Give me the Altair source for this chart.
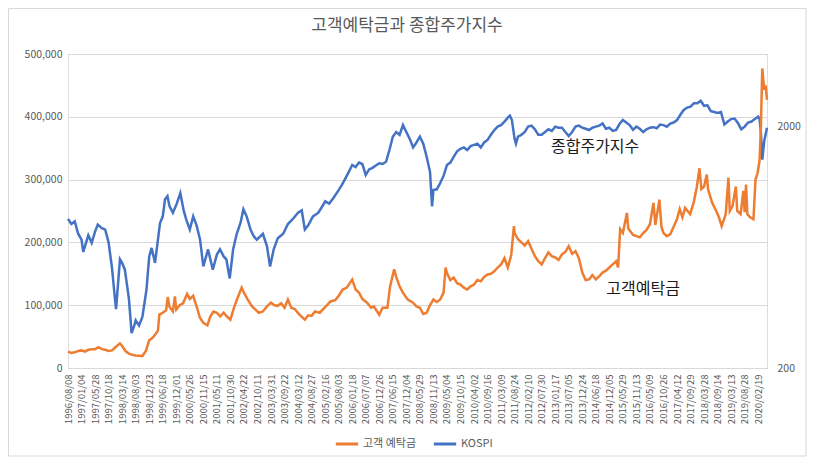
import altair as alt
import pandas as pd

# x-axis category labels (every label interval = 1 unit of t)
date_labels = [
    "1996/08/08", "1997/01/04", "1997/05/28", "1997/10/18", "1998/03/14", "1998/08/03",
    "1998/12/23", "1999/06/18", "1999/12/01", "2000/05/26", "2000/11/15", "2001/05/11",
    "2001/10/30", "2002/04/22", "2002/10/11", "2003/03/31", "2003/09/22", "2004/03/12",
    "2004/08/27", "2005/02/16", "2005/08/03", "2006/01/18", "2006/07/07", "2006/12/26",
    "2007/06/15", "2007/12/04", "2008/05/29", "2008/11/13", "2009/05/04", "2009/10/15",
    "2010/04/02", "2010/09/16", "2011/03/09", "2011/08/24", "2012/02/10", "2012/07/30",
    "2013/01/17", "2013/07/05", "2013/12/24", "2014/06/18", "2014/12/05", "2015/05/29",
    "2015/11/13", "2016/05/09", "2016/10/26", "2017/04/12", "2017/09/29", "2018/03/28",
    "2018/09/14", "2019/03/13", "2019/08/28", "2020/02/19",
]

# KOSPI (right axis, log scale)
kospi_t = [
    0, 0.25, 0.5, 0.75, 1.0, 1.13, 1.5, 1.75, 2.0, 2.2, 2.5, 2.75, 3.0, 3.25, 3.47, 3.55,
    3.84, 4.0, 4.2, 4.5, 4.7, 4.9, 5.0, 5.25, 5.5, 5.8, 6.0, 6.18, 6.43, 6.8, 7.0, 7.17,
    7.35, 7.5, 7.75, 8.03, 8.3, 8.55, 8.75, 9.0, 9.25, 9.5, 9.76, 10.0, 10.35, 10.7, 11.0,
    11.23, 11.5, 11.7, 11.95, 12.2, 12.47, 12.75, 12.96, 13.2, 13.5, 13.75, 13.95, 14.4,
    14.7, 14.93, 15.2, 15.5, 15.9, 16.25, 16.6, 17.0, 17.27, 17.5, 17.75, 18.1, 18.5, 18.85,
    19.0, 19.3, 19.6, 20.0, 20.25, 20.5, 20.75, 21.0, 21.25, 21.5, 21.75, 22.0, 22.25, 22.5,
    22.75, 23.0, 23.25, 23.5, 23.75, 24.0, 24.25, 24.5, 24.75, 25.0, 25.25, 25.5, 25.75,
    26.0, 26.25, 26.5, 26.75, 26.9, 27.0, 27.25, 27.5, 27.75, 28.0, 28.25, 28.5, 28.75,
    29.0, 29.25, 29.5, 29.75, 30.0, 30.25, 30.5, 30.75, 31.0, 31.25, 31.5, 31.75, 32.0,
    32.25, 32.5, 32.65, 32.8, 33.0, 33.1, 33.25, 33.5, 33.75, 34.0, 34.25, 34.5, 34.75,
    35.0, 35.25, 35.5, 35.75, 36.0, 36.25, 36.5, 36.75, 37.0, 37.25, 37.5, 37.75, 38.0,
    38.25, 38.5, 38.75, 39.0, 39.25, 39.5, 39.75, 40.0, 40.25, 40.5, 40.75, 41.0, 41.25,
    41.5, 41.75, 42.0, 42.25, 42.5, 42.75, 43.0, 43.25, 43.5, 43.75, 44.0, 44.25, 44.5,
    44.75, 45.0, 45.25, 45.5, 45.75, 46.0, 46.25, 46.5, 46.75, 47.0, 47.25, 47.5, 47.75,
    48.0, 48.25, 48.5, 48.75, 49.0, 49.25, 49.5, 49.75, 50.0, 50.25, 50.5, 50.75, 51.0,
    51.1, 51.2, 51.3, 51.45, 51.65,
]
kospi_v = [
    830, 790, 810, 720, 680, 605, 709, 660, 735, 786, 760, 749, 662, 520, 387, 351,
    564, 545, 511, 388, 279, 300, 315, 300, 326, 423, 578, 629, 545, 797, 848, 1000,
    1030, 937, 880, 957, 1060, 897, 820, 750, 850, 780, 680, 527, 620, 511, 590,
    620, 580, 564, 470, 620, 720, 800, 910, 850, 746, 700, 680, 720,
    640, 527, 620, 690, 720, 790, 827, 880, 900, 750, 780, 850, 880, 947,
    981, 960, 1010, 1092, 1150, 1222, 1300, 1387, 1360, 1420, 1400, 1262, 1330, 1350,
    1380, 1410, 1400, 1430, 1600, 1817, 1900, 1850, 2030, 1900, 1780, 1640, 1720,
    1817, 1700, 1500, 1300, 935, 1092, 1100, 1167, 1250, 1387, 1420, 1500, 1580,
    1620, 1640, 1600, 1660, 1680, 1700, 1640, 1720, 1762, 1850, 1937, 2000, 2030,
    2100, 2180, 2220, 2130, 1780, 1700, 1820, 1850, 1900, 2000, 2020, 1950, 1850,
    1850, 1900, 1950, 1920, 2000, 1980, 1980, 1900, 1830, 1900, 2000, 2020, 1980,
    1960, 1937, 1980, 2000, 2020, 2060, 1960, 1980, 1920, 1940, 2050, 2130, 2080,
    2030, 1940, 2000, 1960, 1900, 1950, 1980, 1990, 1970, 2040, 2030, 2000, 2060,
    2080, 2130, 2240, 2346, 2400, 2420, 2500, 2500, 2560, 2440, 2450, 2320, 2300,
    2280, 2300, 2040, 2100, 2150, 2160, 2070, 1950, 2000, 2080, 2100, 2150, 2200,
    2150, 1900, 1460, 1750, 1980,
]

# Customer deposits (left axis)
dep_t = [
    0, 0.25, 0.5, 0.75, 1.0, 1.25, 1.5, 1.75, 2.0, 2.25, 2.5, 2.75, 3.0, 3.25, 3.5, 3.84,
    4.0, 4.25, 4.5, 4.75, 5.0, 5.25, 5.5, 5.75, 6.0, 6.25, 6.5, 6.65, 6.75, 7.0, 7.25,
    7.37, 7.5, 7.75, 7.9, 8.0, 8.25, 8.5, 8.8, 9.0, 9.25, 9.5, 9.75, 10.0, 10.3, 10.5,
    10.75, 11.0, 11.25, 11.5, 11.75, 12.0, 12.25, 12.5, 12.83, 13.0, 13.25, 13.6, 13.75,
    14.1, 14.4, 14.7, 15.0, 15.25, 15.5, 15.75, 16.0, 16.25, 16.5, 16.75, 17.1, 17.5,
    17.75, 18.0, 18.25, 18.6, 19.0, 19.4, 19.75, 20.0, 20.3, 20.6, 21.0, 21.25, 21.5,
    21.75, 22.1, 22.4, 22.6, 23.0, 23.25, 23.6, 23.8, 24.1, 24.25, 24.5, 24.75, 25.1,
    25.5, 25.75, 26.0, 26.25, 26.5, 26.75, 27.0, 27.25, 27.5, 27.75, 27.9, 28.0, 28.25,
    28.5, 28.75, 29.0, 29.25, 29.5, 29.75, 30.0, 30.25, 30.5, 30.75, 31.0, 31.25, 31.5,
    31.75, 32.0, 32.25, 32.5, 32.75, 32.95, 33.0, 33.25, 33.5, 33.75, 34.0, 34.25, 34.5,
    34.75, 35.0, 35.25, 35.5, 35.75, 36.0, 36.25, 36.5, 36.75, 37.0, 37.25, 37.5, 37.75,
    38.0, 38.25, 38.5, 38.75, 39.0, 39.25, 39.5, 39.75, 40.0, 40.25, 40.5, 40.65, 40.8,
    41.0, 41.3, 41.4, 41.75, 42.0, 42.25, 42.5, 42.75, 43.0, 43.26, 43.4, 43.7, 43.85,
    44.0, 44.25, 44.5, 44.75, 45.0, 45.2, 45.4, 45.6, 45.97, 46.25, 46.47, 46.66, 46.8,
    47.0, 47.2, 47.3, 47.6, 47.9, 48.1, 48.3, 48.6, 48.8, 48.9, 49.1, 49.35, 49.45,
    49.7, 49.9, 50.0, 50.1, 50.2, 50.4, 50.65, 50.8, 50.95, 51.1, 51.2, 51.3, 51.45,
    51.55, 51.65,
]
dep_v = [
    26000, 24000, 25000, 27000, 28000, 26000, 29000, 30000, 30000, 33000, 30000, 29000,
    27000, 28000, 33000, 39000, 35000, 27000, 23000, 21000, 20000, 19500, 19000, 27000,
    44000, 48000, 55000, 60000, 85000, 88000, 92000, 113000, 97000, 90000, 114000, 93000,
    100000, 103000, 118000, 110000, 115000, 98000, 80000, 72000, 68000, 81000, 90000,
    88000, 82000, 88000, 82000, 77000, 95000, 110000, 128000, 120000, 110000, 98000,
    95000, 88000, 90000, 98000, 104000, 100000, 99000, 103000, 96000, 109000, 96000,
    94000, 85000, 77000, 84000, 83000, 90000, 88000, 97000, 106000, 108000, 115000,
    125000, 128000, 141000, 125000, 120000, 110000, 104000, 96000, 98000, 85000, 96000,
    96000, 130000, 157000, 145000, 130000, 120000, 109000, 104000, 98000, 96000, 86000,
    88000, 100000, 109000, 105000, 109000, 120000, 160000, 151000, 140000, 144000,
    135000, 133000, 128000, 125000, 130000, 133000, 140000, 138000, 145000, 149000,
    150000, 154000, 160000, 165000, 175000, 160000, 180000, 226000, 215000, 205000,
    200000, 195000, 202000, 190000, 178000, 170000, 165000, 175000, 184000, 178000,
    176000, 172000, 181000, 185000, 194000, 182000, 186000, 175000, 152000, 140000,
    141000, 148000, 141000, 146000, 152000, 155000, 160000, 165000, 170000, 160000, 221000,
    215000, 247000, 222000, 212000, 210000, 208000, 215000, 220000, 229000, 263000, 228000, 268000, 225000,
    215000, 210000, 213000, 225000, 237000, 253000, 240000, 255000, 245000, 265000, 289000, 318000, 285000,
    289000, 308000, 284000, 263000, 250000, 240000, 226000, 245000, 303000, 250000, 258000, 289000, 250000,
    245000, 282000, 248000, 292000, 245000, 240000, 237000, 300000, 310000, 330000, 385000, 477000, 443000,
    450000, 427000,
]

# in-plot annotations, in data coordinates (t, left-axis value)
ann_label = ["종합주가지수", "고객예탁금"]
ann_t = [38.95, 42.5]
ann_v = [352000, 126000]

title_text = ["고객예탁금과 종합주가지수"]

series_names = ["고객 예탁금", "KOSPI"]
series_colors = ["#ED7D31", "#4472C4"]

FONT = "Noto Sans CJK KR"
GRAY = "#595959"

dep_df = pd.DataFrame({"t": dep_t, "v": dep_v, "series": series_names[0]})
kospi_df = pd.DataFrame({"t": kospi_t, "v": kospi_v, "series": series_names[1]})
ann_df = pd.DataFrame({"t": ann_t, "v": ann_v, "label": ann_label})
title_df = pd.DataFrame({"label": title_text})

labels_js = "[" + ",".join("'" + s + "'" for s in date_labels) + "]"

x_axis = alt.Axis(
    values=list(range(len(date_labels))),
    labelExpr=labels_js + "[datum.value]",
    labelAngle=270,
    labelOverlap=False,
    labelFontSize=9.5,
    labelColor=GRAY,
    labelFont=FONT,
    labelPadding=6,
    ticks=False,
    grid=False,
    domainColor="#D9D9D9",
    title=None,
)
x_scale = alt.Scale(domain=[0, 51.65], nice=False, zero=False)
x_enc = alt.X("t:Q", scale=x_scale, axis=x_axis)

color_enc = alt.Color(
    "series:N",
    scale=alt.Scale(domain=series_names, range=series_colors),
    legend=alt.Legend(
        title=None,
        orient="none",
        legendX=266,
        legendY=377,
        direction="horizontal",
        symbolType="stroke",
        symbolStrokeWidth=3,
        symbolSize=500,
        labelFontSize=11,
        labelColor=GRAY,
        labelFont=FONT,
        columnPadding=10,
        labelOffset=3,
    ),
)

kospi_line = alt.Chart(kospi_df).mark_line(strokeWidth=2.5).encode(
    x=x_enc,
    y=alt.Y(
        "v:Q",
        scale=alt.Scale(type="log", domain=[200, 4000], nice=False),
        axis=alt.Axis(
            orient="right",
            values=[200, 2000],
            labelExpr="datum.value",
            grid=False,
            ticks=False,
            domain=False,
            labelFontSize=10.5,
            labelColor=GRAY,
            labelFont=FONT,
            labelPadding=10,
            title=None,
        ),
    ),
    color=color_enc,
    order="t:Q",
)

dep_line = alt.Chart(dep_df).mark_line(strokeWidth=2.5).encode(
    x=x_enc,
    y=alt.Y(
        "v:Q",
        scale=alt.Scale(domain=[0, 500000], nice=False),
        axis=alt.Axis(
            orient="left",
            values=list(range(0, 500001, 50000)),
            format=",d",
            grid=True,
            gridColor="#D9D9D9",
            ticks=False,
            domain=False,
            labelFontSize=10.5,
            labelColor=GRAY,
            labelFont=FONT,
            labelPadding=6,
            title=None,
        ),
    ),
    color=color_enc,
    order="t:Q",
)

ann_text = alt.Chart(ann_df).mark_text(
    font=FONT, fontSize=16, color="#1a1a1a", align="center", baseline="middle"
).encode(x=x_enc, y="v:Q", text="label:N")

title_mark = alt.Chart(title_df).mark_text(
    font=FONT, fontSize=17, color=GRAY, align="center", baseline="middle"
).encode(x=alt.value(339), y=alt.value(-28), text="label:N")

border = alt.Chart(title_df).mark_rect(
    filled=False, stroke="#D9D9D9", strokeWidth=1
).encode(
    x=alt.value(-59.5), x2=alt.value(738), y=alt.value(-45.5), y2=alt.value(402)
)

left_layer = alt.layer(dep_line, ann_text, title_mark, border)

chart = (
    alt.layer(kospi_line, left_layer)
    .resolve_scale(y="independent")
    .properties(
        width=699,
        height=314,
        padding={"left": 60, "top": 46, "right": 40, "bottom": 89},
        autosize=alt.AutoSizeParams(type="none"),
    )
    .configure_view(stroke=None)
    .configure(background="white")
)

chart.save("out.html", embed_options={"renderer": "svg", "actions": False})
